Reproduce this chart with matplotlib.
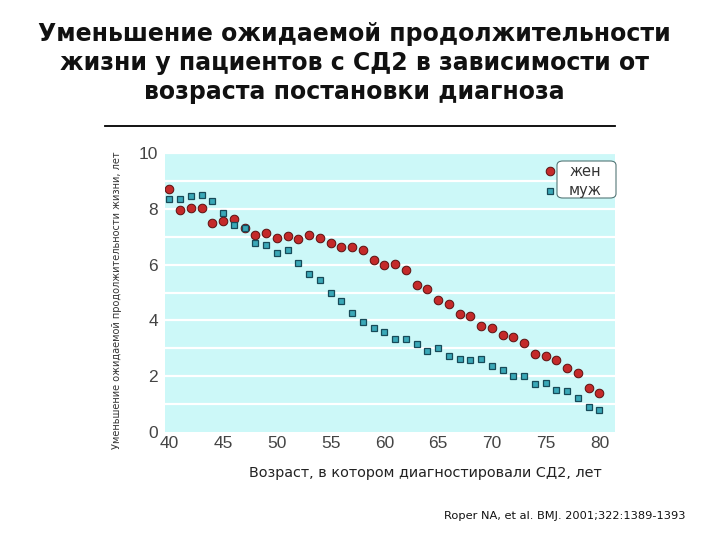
import matplotlib
matplotlib.use("Agg")
import matplotlib.pyplot as plt
from matplotlib.patches import FancyBboxPatch
from matplotlib.lines import Line2D

ages = list(range(40, 81))
women = [8.70, 7.97, 8.02, 8.04, 7.50, 7.55, 7.62, 7.31, 7.06, 7.12,
         6.95, 7.04, 6.91, 7.05, 6.95, 6.77, 6.63, 6.64, 6.51, 6.18,
         6.00, 6.03, 5.80, 5.28, 5.14, 4.74, 4.57, 4.22, 4.15, 3.79,
         3.74, 3.47, 3.39, 3.18, 2.78, 2.73, 2.57, 2.30, 2.11, 1.57, 1.39]
men = [8.36, 8.36, 8.47, 8.51, 8.29, 7.86, 7.43, 7.31, 6.78, 6.71,
       6.40, 6.51, 6.07, 5.68, 5.45, 4.98, 4.71, 4.28, 3.95, 3.74,
       3.58, 3.35, 3.35, 3.15, 2.90, 3.02, 2.74, 2.63, 2.57, 2.61,
       2.38, 2.21, 2.00, 2.02, 1.73, 1.75, 1.52, 1.47, 1.23, 0.89, 0.79]
xticks = [40, 45, 50, 55, 60, 65, 70, 75, 80]
yticks = [0, 2, 4, 6, 8, 10]
legend_labels = ["жен", "муж"]

title = ("Уменьшение ожидаемой продолжительности\n"
         "жизни у пациентов с СД2 в зависимости от\n"
         "возраста постановки диагноза")
ylabel = "Уменьшение ожидаемой продолжительности жизни, лет"
xlabel = "Возраст, в котором диагностировали СД2, лет"
source = "Roper NA, et al. BMJ. 2001;322:1389-1393"

red = "#c42a2a"
red_edge = "#5a1010"
teal = "#3aa8b8"
teal_edge = "#174a58"
bg = "#ccf8f8"
tickfont = ["Liberation Sans", "DejaVu Sans"]

fig = plt.figure(figsize=(7.2, 5.4), dpi=100)
fig.patch.set_facecolor("white")
ax = fig.add_axes([165/720, 1-432/540, 450/720, 279/540])
ax.set_facecolor(bg)
ax.set_xlim(39.6, 81.45)
ax.set_ylim(0, 10)
for v in range(1, 11):
    ax.axhline(v, color="white", lw=1.6, zorder=1)
for s in ax.spines.values():
    s.set_visible(False)

ax.plot(ages, women, ls="none", marker="o", ms=6.2, mfc=red, mec=red_edge,
        mew=0.7, zorder=3)
ax.plot(ages, men, ls="none", marker="s", ms=4.8, mfc=teal, mec=teal_edge,
        mew=0.9, zorder=4)

ax.set_xticks(xticks)
ax.set_yticks(yticks)
ax.tick_params(length=0, labelsize=12.5, labelcolor="#444444")
for lab in ax.get_xticklabels() + ax.get_yticklabels():
    lab.set_family(tickfont)
ax.tick_params(axis="y", pad=5)
ax.tick_params(axis="x", pad=3)

fig.text(354/720, 1-63/540, title, ha="center", va="center", fontsize=17,
         fontweight="bold", color="#111111", linespacing=1.24,
         family="DejaVu Sans")
fig.add_artist(Line2D([105/720, 615/720], [1-126/540, 1-126/540],
                      color="black", lw=1.3))
fig.text(117/720, 1-300/540, ylabel, rotation=90, ha="center", va="center",
         fontsize=7.0, color="#333333", family="DejaVu Sans")
fig.text(425/720, 1-473/540, xlabel, ha="center", va="center",
         fontsize=10.4, color="#222222", family="DejaVu Sans")
fig.text(444/720, 1-516/540, source, ha="left", va="center",
         fontsize=8.2, color="#111111", family="DejaVu Sans")

# legend
box = FancyBboxPatch((557/720, 1-198/540), 59/720, 37/540,
                     boxstyle="round,pad=0,rounding_size=0.008",
                     transform=fig.transFigure, fc="white", ec="#557777",
                     lw=0.8, zorder=5)
fig.add_artist(box)
fig.add_artist(Line2D([550/720], [1-171/540], ls="none", marker="o", ms=6.2,
                      mfc=red, mec=red_edge, mew=0.7, zorder=6))
fig.add_artist(Line2D([550/720], [1-191/540], ls="none", marker="s", ms=4.8,
                      mfc=teal, mec=teal_edge, mew=0.9, zorder=6))
fig.text(585/720, 1-171/540, legend_labels[0], ha="center", va="center",
         fontsize=10.5, color="#333333", zorder=7)
fig.text(585/720, 1-190/540, legend_labels[1], ha="center", va="center",
         fontsize=10.5, color="#333333", zorder=7)

fig.savefig("out.png", dpi=100)
